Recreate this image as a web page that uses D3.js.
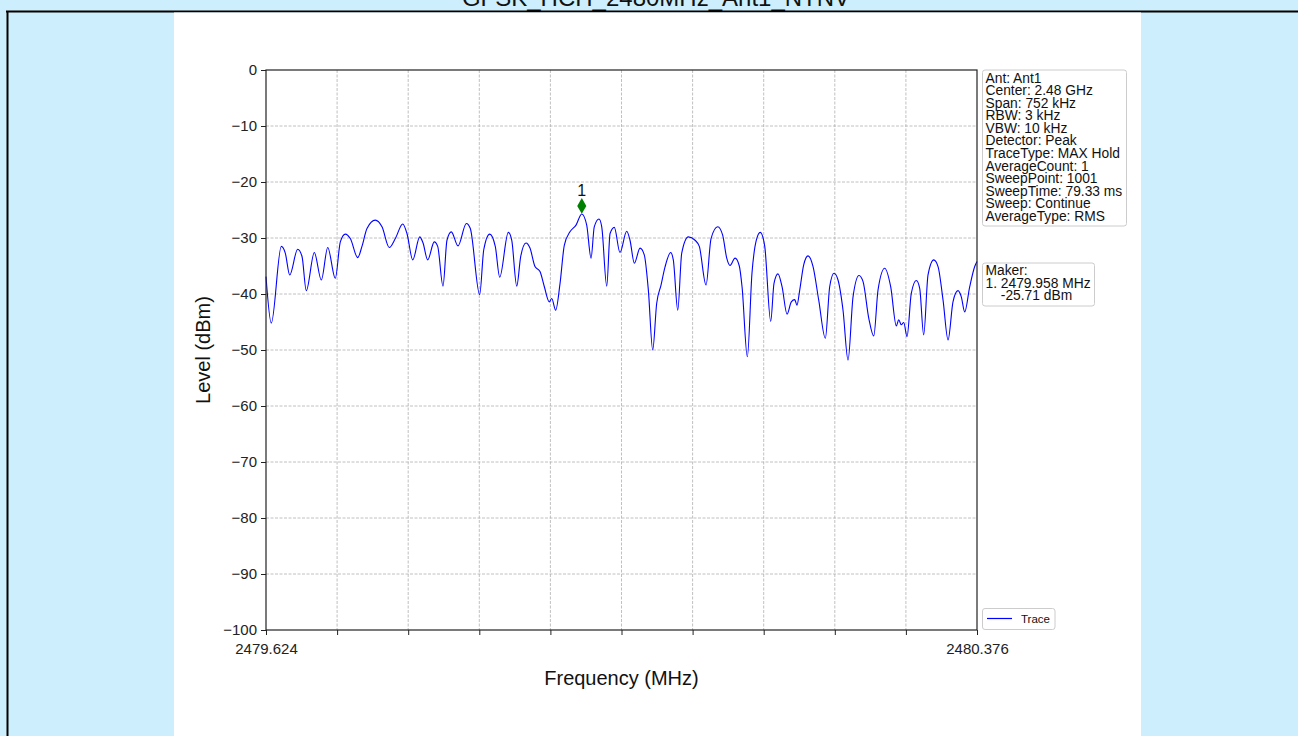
<!DOCTYPE html>
<html>
<head>
<meta charset="utf-8">
<script src="https://cdn.jsdelivr.net/npm/d3@7"></script>
<style>
    body { margin: 0; background: #cdeefc; overflow: hidden; }
    svg { display: block; font-family: 'Liberation Sans', Arial, sans-serif; }
</style>
</head>
<body>
<div id="chart-container"></div>
<script>
// trace (MHz, dBm)
const freqMHz = [
    2479.6240, 2479.6296, 2479.6402, 2479.6444, 2479.6491, 2479.6575, 2479.6621, 2479.6666,
    2479.6751, 2479.6825, 2479.6893, 2479.6973, 2479.7026, 2479.7079, 2479.7132, 2479.7210,
    2479.7255, 2479.7308, 2479.7396, 2479.7467, 2479.7544, 2479.7608, 2479.7686, 2479.7731,
    2479.7792, 2479.7866, 2479.7901, 2479.7950, 2479.8020, 2479.8056, 2479.8112, 2479.8154,
    2479.8200, 2479.8271, 2479.8359, 2479.8401, 2479.8500, 2479.8543, 2479.8606, 2479.8665,
    2479.8712, 2479.8803, 2479.8839, 2479.8892, 2479.8934, 2479.8990, 2479.9032, 2479.9085,
    2479.9138, 2479.9184, 2479.9236, 2479.9262, 2479.9304, 2479.9350, 2479.9395, 2479.9455,
    2479.9519, 2479.9580, 2479.9632, 2479.9678, 2479.9712, 2479.9762, 2479.9791, 2479.9844,
    2479.9879, 2479.9924, 2479.9984, 2480.0055, 2480.0090, 2480.0136, 2480.0196, 2480.0241,
    2480.0284, 2480.0330, 2480.0372, 2480.0418, 2480.0460, 2480.0520, 2480.0548, 2480.0595,
    2480.0637, 2480.0707, 2480.0778, 2480.0823, 2480.0894, 2480.0947, 2480.1018, 2480.1070,
    2480.1113, 2480.1148, 2480.1201, 2480.1246, 2480.1275, 2480.1331, 2480.1380, 2480.1426,
    2480.1468, 2480.1515, 2480.1578, 2480.1613, 2480.1655, 2480.1698, 2480.1751, 2480.1796,
    2480.1832, 2480.1856, 2480.1885, 2480.1927, 2480.1973, 2480.2026, 2480.2086, 2480.2156,
    2480.2202, 2480.2248, 2480.2290, 2480.2343, 2480.2396, 2480.2449, 2480.2512, 2480.2555,
    2480.2615, 2480.2668, 2480.2713, 2480.2784, 2480.2847, 2480.2907, 2480.2932, 2480.2959,
    2480.2985, 2480.3020, 2480.3065, 2480.3118, 2480.3154, 2480.3196, 2480.3242, 2480.3302,
    2480.3348, 2480.3401, 2480.3454, 2480.3506, 2480.3559, 2480.3594, 2480.3630, 2480.3683,
    2480.3736, 2480.3760
];
const levelDBm = [
    -36.9, -45.2, -31.5, -32.7, -36.6, -32.0, -33.3, -39.4,
    -32.6, -37.5, -31.7, -37.2, -30.7, -29.3, -30.1, -33.5,
    -31.5, -28.3, -26.8, -28.0, -31.7, -30.1, -27.5, -29.2,
    -33.9, -29.8, -30.9, -33.9, -30.7, -31.5, -38.6, -30.4,
    -28.9, -31.4, -27.4, -28.3, -40.1, -32.1, -29.3, -31.5,
    -37.0, -29.0, -30.4, -38.6, -33.3, -30.9, -31.8, -35.1,
    -36.0, -38.7, -41.4, -40.8, -42.9, -38.1, -31.3, -28.9,
    -27.7, -25.71, -27.7, -33.6, -28.0, -26.6, -28.0, -38.6,
    -29.2, -28.1, -32.6, -28.8, -30.4, -34.5, -31.8, -33.0,
    -39.3, -50.0, -41.7, -38.4, -35.2, -32.6, -33.9, -42.9,
    -32.7, -29.8, -30.4, -31.5, -38.4, -30.1, -28.0, -29.5,
    -33.6, -34.9, -33.6, -35.0, -38.7, -51.2, -36.3, -30.4,
    -29.0, -31.5, -44.9, -38.1, -36.4, -38.7, -43.6, -41.4,
    -41.0, -42.0, -39.3, -34.8, -33.2, -35.1, -41.1, -47.9,
    -38.7, -36.3, -37.5, -42.9, -51.8, -40.5, -36.7, -37.8,
    -44.3, -47.5, -39.3, -35.4, -38.7, -45.7, -44.6, -45.5,
    -45.1, -47.6, -39.9, -37.6, -39.0, -47.3, -36.6, -33.9,
    -35.1, -41.1, -48.2, -41.4, -39.4, -40.5, -43.2, -38.7,
    -35.1, -34.2
];

const xTickValues = [2479.624, 2479.6992, 2479.7744, 2479.8496, 2479.9248, 2480.000,
    2480.0752, 2480.1504, 2480.2256, 2480.3008, 2480.376];
const xTickLabels = ['2479.624', '', '', '', '', '', '', '', '', '', '2480.376'];
const yTickValues = [0, -10, -20, -30, -40, -50, -60, -70, -80, -90, -100];

const markerFreq = 2479.958;
const markerLevel = -25.71;
const markerLabel = '1';

const title = 'GFSK_HCH_2480MHz_Ant1_NTNV';
const infoLines = ['Ant: Ant1', 'Center: 2.48 GHz', 'Span: 752 kHz', 'RBW: 3 kHz', 'VBW: 10 kHz',
    'Detector: Peak', 'TraceType: MAX Hold', 'AverageCount: 1', 'SweepPoint: 1001',
    'SweepTime: 79.33 ms', 'Sweep: Continue', 'AverageType: RMS'];
const makerLines = ['Maker:', '1. 2479.958 MHz', '    -25.71 dBm'];

const data = freqMHz.map((f, i) => ({ f: f, v: levelDBm[i] }));

const svg = d3.select('#chart-container')
    .append('svg')
    .attr('width', 1298)
    .attr('height', 736);

// page frame (title sits above the visible area, only its lower half shows)
svg.append('text')
    .attr('x', 656)
    .attr('y', 6)
    .attr('text-anchor', 'middle')
    .style('font-size', '24px')
    .style('fill', '#111')
    .text(title);

svg.append('line')
    .attr('x1', 6).attr('x2', 1298)
    .attr('y1', 11.5).attr('y2', 11.5)
    .attr('stroke', '#000')
    .attr('stroke-width', 2);

svg.append('line')
    .attr('x1', 7.5).attr('x2', 7.5)
    .attr('y1', 11).attr('y2', 736)
    .attr('stroke', '#000')
    .attr('stroke-width', 2);

svg.append('rect')
    .attr('x', 174)
    .attr('y', 12.5)
    .attr('width', 967)
    .attr('height', 724)
    .attr('fill', '#fff');

// plot area
const plotLeft = 266, plotRight = 977, plotTop = 70, plotBottom = 630;

const x = d3.scaleLinear()
    .domain([freqMHz[0], freqMHz[freqMHz.length - 1]])
    .range([plotLeft, plotRight]);

const y = d3.scaleLinear()
    .domain([-100, 0])
    .range([plotBottom, plotTop]);

const grid = svg.append('g')
    .attr('stroke', '#b0b0b0')
    .attr('stroke-width', 0.8)
    .attr('stroke-dasharray', '3,1.5');

grid.selectAll('.vgrid')
    .data(xTickValues.slice(1, -1))
    .join('line')
    .attr('x1', (d) => x(d)).attr('x2', (d) => x(d))
    .attr('y1', plotTop).attr('y2', plotBottom);

grid.selectAll('.hgrid')
    .data(yTickValues.slice(1, -1))
    .join('line')
    .attr('x1', plotLeft).attr('x2', plotRight)
    .attr('y1', (d) => y(d)).attr('y2', (d) => y(d));

const xAxis = svg.append('g')
    .attr('transform', `translate(0,${plotBottom})`)
    .call(d3.axisBottom(x)
        .tickValues(xTickValues)
        .tickSize(5)
        .tickPadding(8)
        .tickFormat((d, i) => xTickLabels[i]));

const yAxis = svg.append('g')
    .attr('transform', `translate(${plotLeft},0)`)
    .call(d3.axisLeft(y)
        .tickValues(yTickValues)
        .tickSize(5)
        .tickPadding(4)
        .tickFormat((d) => d < 0 ? '\u2212' + Math.abs(d) : d));

[xAxis, yAxis].forEach((g) => {
    g.select('.domain').remove();
    g.selectAll('.tick line').attr('stroke', '#222').attr('stroke-width', 1);
    g.selectAll('.tick text')
        .style('font-family', "'Liberation Sans', Arial, sans-serif")
        .style('font-size', '15px')
        .attr('fill', '#222');
});

const line = d3.line()
    .x((d) => x(d.f))
    .y((d) => y(d.v))
    .curve(d3.curveMonotoneX);

svg.append('path')
    .datum(data)
    .attr('fill', 'none')
    .attr('stroke', '#0000ff')
    .attr('stroke-width', 1.1)
    .attr('d', line);

svg.append('rect')
    .attr('x', plotLeft)
    .attr('y', plotTop)
    .attr('width', plotRight - plotLeft)
    .attr('height', plotBottom - plotTop)
    .attr('fill', 'none')
    .attr('stroke', '#222')
    .attr('stroke-width', 1.2);

// marker
svg.append('path')
    .attr('d', d3.symbol(d3.symbolDiamond, 72)())
    .attr('transform', `translate(${x(markerFreq)},${y(markerLevel) - 8})`)
    .attr('fill', '#008000');

svg.append('text')
    .attr('x', x(markerFreq))
    .attr('y', y(markerLevel) - 17.5)
    .attr('text-anchor', 'middle')
    .style('font-size', '16px')
    .style('fill', '#111')
    .text(markerLabel);

// axis titles
svg.append('text')
    .attr('x', (plotLeft + plotRight) / 2)
    .attr('y', 685)
    .attr('text-anchor', 'middle')
    .style('font-size', '20px')
    .style('fill', '#111')
    .text('Frequency (MHz)');

svg.append('text')
    .attr('transform', `translate(210,${(plotTop + plotBottom) / 2}) rotate(-90)`)
    .attr('text-anchor', 'middle')
    .style('font-size', '20px')
    .style('fill', '#111')
    .text('Level (dBm)');

// side boxes
function textBox(lines, bx, by, bw, bh, firstBase) {
    svg.append('rect')
        .attr('x', bx).attr('y', by)
        .attr('width', bw).attr('height', bh)
        .attr('rx', 2.5)
        .attr('fill', '#fff')
        .attr('stroke', '#cccccc')
        .attr('stroke-width', 1);

    svg.append('g')
        .selectAll('text')
        .data(lines)
        .join('text')
        .attr('x', bx + 3)
        .attr('y', (d, i) => firstBase + i * 12.55)
        .attr('xml:space', 'preserve')
        .style('white-space', 'pre')
        .style('font-size', '13.8px')
        .style('fill', '#111')
        .text((d) => d);
}

textBox(infoLines, 982.5, 70, 144, 156, 82.7);
textBox(makerLines, 982.5, 263, 112, 43, 275.3);

// legend
svg.append('rect')
    .attr('x', 982.5).attr('y', 608.5)
    .attr('width', 72.5).attr('height', 21)
    .attr('rx', 2.5)
    .attr('fill', '#fff')
    .attr('stroke', '#cccccc');

svg.append('line')
    .attr('x1', 987).attr('x2', 1012)
    .attr('y1', 618.5).attr('y2', 618.5)
    .attr('stroke', '#0000ff')
    .attr('stroke-width', 1.2);

svg.append('text')
    .attr('x', 1021)
    .attr('y', 622.5)
    .style('font-size', '11.5px')
    .style('fill', '#111')
    .text('Trace');
</script>
</body>
</html>
